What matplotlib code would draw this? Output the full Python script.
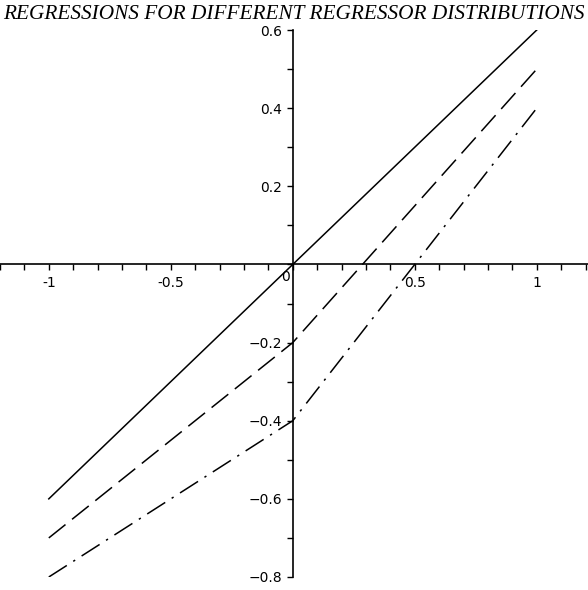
import numpy as np
from matplotlib import pyplot as plt

# regressor values and the three regression lines
x = [-1, 0, 1]
solid_y = [-0.6, 0.0, 0.6]
dashed_y = [-0.7, -0.2, 0.5]
dashdot_y = [-0.8, -0.4, 0.4]

xticks = [-1, -0.5, 0.5, 1]
xticklabels = ['-1', '-0.5', '0.5', '1']
yticks = [-0.8, -0.6, -0.4, -0.2, 0.2, 0.4, 0.6]
yticklabels = ['\u22120.8', '\u22120.6', '\u22120.4', '\u22120.2', '0.2', '0.4', '0.6']

fig = plt.figure(figsize=(5.88, 5.90), dpi=100)
ax = fig.add_axes([0, 13/590, 1, (577-30)/590])

ax.plot(x, solid_y, color='black', lw=1.1)
ax.plot(x, dashed_y, color='black', lw=1.1, dashes=(14, 5.5))
ax.plot(x, dashdot_y, color='black', lw=1.1, dashes=(14, 5, 1.5, 5))

ax.set_xlim(-1.2, 1.21)
ax.set_ylim(-0.8, 0.6)

# axes through the origin
for side in ['top', 'right']:
    ax.spines[side].set_visible(False)
ax.spines['left'].set_position(('data', 0))
ax.spines['bottom'].set_position(('data', 0))
ax.spines['left'].set_linewidth(1.2)
ax.spines['bottom'].set_linewidth(1.2)

ax.set_xticks(xticks)
ax.set_xticklabels(xticklabels)
ax.set_yticks(yticks)
ax.set_yticklabels(yticklabels)
ax.set_xticks(np.arange(-1.2, 1.21, 0.1), minor=True)
ax.set_yticks(np.arange(-0.8, 0.61, 0.1), minor=True)
ax.tick_params(which='both', direction='out', length=4, width=1, labelsize=10)
ax.tick_params(axis='x', pad=4)

ax.text(-0.03, -0.015, '0', ha='center', va='top', fontsize=10)

fig.text(0.5, 0.992, 'REGRESSIONS FOR DIFFERENT REGRESSOR DISTRIBUTIONS',
         ha='center', va='top', fontsize=15.3, style='italic',
         family='Liberation Serif')

fig.savefig('out.png', dpi=100)
